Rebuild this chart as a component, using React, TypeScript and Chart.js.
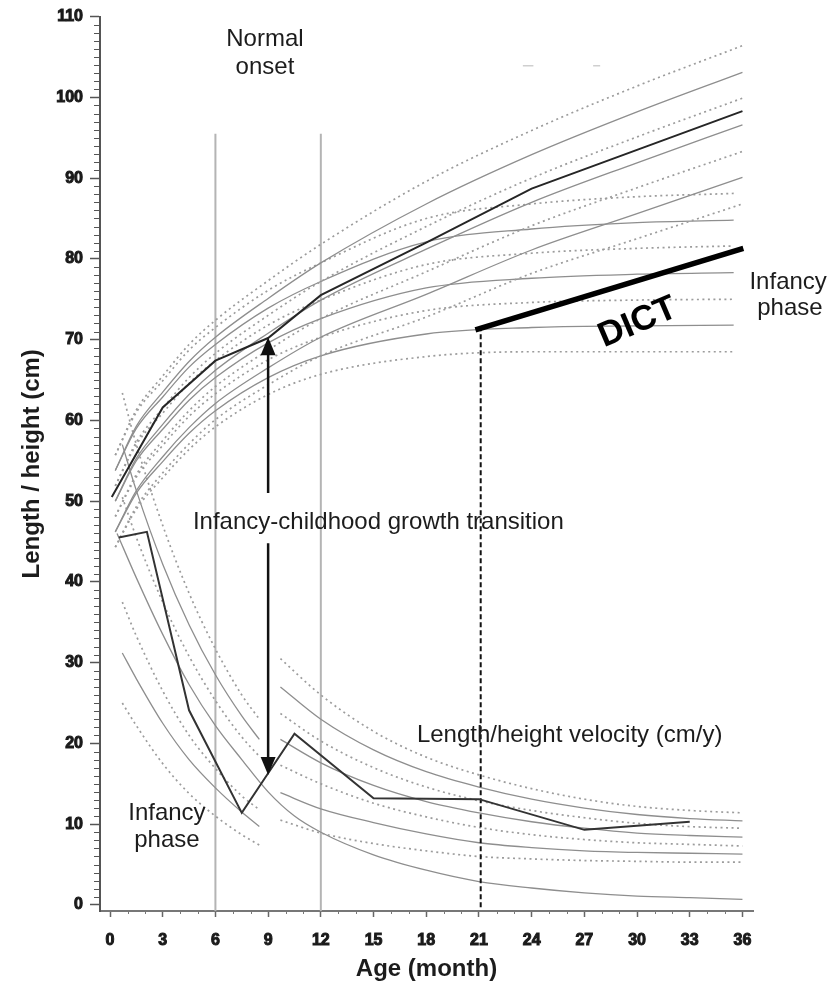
import React, { useEffect, useRef } from 'react';
import { Chart, registerables } from 'chart.js';

Chart.register(...registerables);

// ---------- tick labels ----------
const xTicks = [0, 3, 6, 9, 12, 15, 18, 21, 24, 27, 30, 33, 36];
const yTicks = [0, 10, 20, 30, 40, 50, 60, 70, 80, 90, 100, 110];

// ---------- length / height reference curves (cm) ----------
const childhoodMonths = [0.3, 1.5, 3, 4.5, 6, 9, 12, 18, 24, 30, 36];
const childhoodP3 = [55.7, 61.3, 65.5, 69.4, 72.4, 77.3, 81.8, 89.6, 95.9, 101.4, 106.4];
const childhoodP2 = [53.8, 59.3, 63.5, 67.3, 70.3, 75.1, 79.5, 86.8, 92.9, 98.2, 103.1];
const childhoodP1 = [51.9, 57.3, 61.5, 65.3, 68.3, 73.0, 77.2, 84.0, 90.0, 95.1, 99.9];
const childhoodMean = [50.0, 55.3, 59.5, 63.2, 66.2, 70.8, 74.9, 81.2, 87.0, 91.9, 96.6];
const childhoodM1 = [48.1, 53.3, 57.5, 61.2, 64.2, 68.7, 72.6, 78.4, 84.1, 88.8, 93.3];
const childhoodM2 = [46.2, 51.3, 55.5, 59.1, 62.1, 66.5, 70.3, 75.6, 81.1, 85.6, 90.1];
const childhoodM3 = [44.3, 49.3, 53.5, 57.1, 60.1, 64.4, 68.0, 72.8, 78.2, 82.5, 86.8];

const infancyMonths = [0.3, 1.5, 3, 4.5, 6, 9, 12, 18, 24, 30, 35.5];
const infancyP3 = [55.7, 61.0, 64.9, 68.7, 71.5, 76.1, 79.5, 85.0, 86.8, 87.7, 88.1];
const infancyP2 = [53.8, 59.0, 62.9, 66.6, 69.4, 73.9, 77.2, 82.1, 83.7, 84.5, 84.8];
const infancyP1 = [51.9, 57.0, 60.9, 64.6, 67.4, 71.8, 74.9, 79.3, 80.7, 81.3, 81.6];
const infancyMean = [50.0, 55.0, 58.9, 62.5, 65.3, 69.6, 72.6, 76.4, 77.6, 78.1, 78.3];
const infancyM1 = [48.1, 53.0, 56.9, 60.5, 63.3, 67.5, 70.3, 73.6, 74.6, 74.9, 75.0];
const infancyM2 = [46.2, 51.0, 54.9, 58.4, 61.2, 65.3, 68.0, 70.7, 71.5, 71.7, 71.8];
const infancyM3 = [44.3, 49.0, 52.9, 56.4, 59.2, 63.2, 65.7, 67.9, 68.5, 68.5, 68.5];

// ---------- velocity reference curves (cm/y) ----------
const infVelMonths = [0.7, 1.5, 3, 4.5, 6, 7.5, 8.5];
const infVelP3 = [63.4, 57.0, 47.0, 38.6, 31.7, 26.0, 23.0];
const infVelP2 = [57.0, 51.3, 42.2, 34.7, 28.5, 23.4, 20.5];
const infVelP1 = [50.5, 45.5, 37.5, 30.8, 25.3, 20.8, 18.4];
const infVelM1 = [37.5, 33.3, 26.5, 21.0, 16.9, 13.5, 11.8];
const infVelM2 = [31.2, 28.0, 22.5, 18.0, 14.5, 11.5, 9.7];
const infVelM3 = [25.0, 22.2, 17.5, 13.8, 11.0, 8.7, 7.4];
const infVelMeanMonths = [0.4, 1.5, 3, 4.5, 6, 7.5, 9, 10.5, 12, 15, 18, 21, 24, 27, 30, 33, 36];
const infVelMean = [46.0, 40.5, 33.5, 27.3, 22.2, 18.0, 14.0, 11.0, 9.0, 6.2, 4.3, 2.9, 2.1, 1.5, 1.1, 0.9, 0.7];

const childVelMonths = [9.7, 12, 15, 18, 21, 24, 27, 30, 33, 36];
const childVelP3 = [30.5, 26.0, 21.5, 18.3, 16.1, 14.4, 13.1, 12.2, 11.7, 11.4];
const childVelP2 = [27.0, 23.0, 19.2, 16.5, 14.6, 13.1, 12.0, 11.2, 10.7, 10.4];
const childVelP1 = [23.7, 20.3, 17.0, 14.6, 12.9, 11.7, 10.8, 10.1, 9.7, 9.5];
const childVelMean = [20.5, 17.6, 14.8, 12.8, 11.4, 10.3, 9.5, 8.9, 8.6, 8.4];
const childVelM1 = [17.3, 15.0, 12.6, 10.9, 9.6, 8.7, 8.1, 7.7, 7.5, 7.3];
const childVelM2 = [13.9, 11.9, 10.2, 8.8, 7.7, 7.1, 6.7, 6.5, 6.4, 6.3];
const childVelM3 = [10.5, 8.9, 7.6, 6.7, 6.0, 5.7, 5.5, 5.4, 5.3, 5.3];

// ---------- the child's measurements ----------
const childLengthMonths = [0.1, 3, 6, 9, 12, 18, 24, 36];
const childLength = [50.5, 61.6, 67.4, 70.2, 75.5, 82.0, 88.7, 98.3];
const childVelocityMonths = [0.5, 2.1, 4.5, 7.5, 9, 10.5, 15, 21, 27, 33];
const childVelocity = [45.5, 46.2, 24.1, 11.4, 16.3, 21.2, 13.2, 13.1, 9.3, 10.3];

// ---------- DICT and markers ----------
const dictMonths = [20.8, 36.05];
const dictValues = [71.2, 81.3];
const dictMarkMonth = 21.1;
const dictMarkRange = [-0.3, 71.2];
const normalOnsetLines = [6, 12];
const normalOnsetRange = [-0.75, 95.5];
const transitionMonth = 9;
const upperArrowRange = [51.0, 70.3];
const lowerArrowRange = [44.8, 16.1];

const pts = (xs: number[], ys: number[]) => xs.map((x, i) => ({ x, y: ys[i] }));

const refCurve = (xs: number[], ys: number[], dotted: boolean) => ({
  data: pts(xs, ys),
  borderColor: dotted ? '#9c9c9c' : '#8e8e8e',
  borderWidth: dotted ? 1.7 : 1.3,
  borderDash: dotted ? [2, 3.5] : [],
  cubicInterpolationMode: 'monotone' as const,
  pointRadius: 0,
  fill: false,
});

const FONT = '"Liberation Sans", Arial, Helvetica, sans-serif';

const annotations = [
  { text: 'Normal', x: 8.82, y: 106.4, size: 24, align: 'center' },
  { text: 'onset', x: 8.82, y: 102.9, size: 24, align: 'center' },
  { text: 'Infancy-childhood growth transition', x: 4.72, y: 46.6, size: 24, align: 'left' },
  { text: 'Length/height velocity (cm/y)', x: 17.47, y: 20.2, size: 24, align: 'left' },
  { text: 'Infancy', x: 3.24, y: 10.5, size: 24, align: 'center' },
  { text: 'phase', x: 3.24, y: 7.2, size: 24, align: 'center' },
  { text: 'Infancy', x: 38.6, y: 76.3, size: 24, align: 'center' },
  { text: 'phase', x: 38.7, y: 73.0, size: 24, align: 'center' },
];

const overlayPlugin = {
  id: 'overlay',
  afterDraw(chart: any) {
    const { ctx, chartArea: area } = chart;
    const xs = chart.scales.x;
    const ys = chart.scales.y;
    ctx.save();
    // minor ticks
    ctx.strokeStyle = '#555';
    ctx.lineWidth = 1;
    ctx.beginPath();
    for (let v = 1; v < 110; v++) {
      if (v % 10 === 0) continue;
      const py = Math.round(ys.getPixelForValue(v)) + 0.5;
      ctx.moveTo(area.left - 6, py);
      ctx.lineTo(area.left, py);
    }
    ctx.stroke();
    ctx.strokeStyle = '#777';
    ctx.beginPath();
    for (let m = 1; m <= 36; m++) {
      if (m % 3 === 0) continue;
      const px = Math.round(xs.getPixelForValue(m)) + 0.5;
      ctx.moveTo(px, area.bottom);
      ctx.lineTo(px, area.bottom + 3);
    }
    ctx.stroke();

    // arrowheads
    ctx.fillStyle = '#111';
    const heads = [
      { tip: upperArrowRange[1], dir: -1 },
      { tip: lowerArrowRange[1], dir: 1 },
    ];
    for (const h of heads) {
      const px = xs.getPixelForValue(transitionMonth);
      const py = ys.getPixelForValue(h.tip);
      ctx.beginPath();
      ctx.moveTo(px, py);
      ctx.lineTo(px - 7.5, py - h.dir * 18);
      ctx.lineTo(px + 7.5, py - h.dir * 18);
      ctx.closePath();
      ctx.fill();
    }

    // texts
    ctx.fillStyle = '#1c1c1c';
    ctx.textBaseline = 'alphabetic';
    for (const a of annotations) {
      ctx.font = `${a.size}px ${FONT}`;
      ctx.textAlign = a.align as CanvasTextAlign;
      ctx.fillText(a.text, xs.getPixelForValue(a.x), ys.getPixelForValue(a.y));
    }
    // DICT label
    ctx.save();
    ctx.translate(xs.getPixelForValue(30.05), ys.getPixelForValue(72.1));
    ctx.rotate((-23 * Math.PI) / 180);
    ctx.font = `bold 35px ${FONT}`;
    ctx.textAlign = 'center';
    ctx.textBaseline = 'middle';
    ctx.fillStyle = '#000';
    ctx.fillText('DICT', 0, 0);
    ctx.restore();
    ctx.restore();
  },
};

export default function App() {
  const canvasRef = useRef<HTMLCanvasElement | null>(null);

  useEffect(() => {
    document.body.style.margin = '0';
    const canvas = canvasRef.current;
    if (!canvas) return;

    const line = (data: any[], color: string, width: number, dash: number[] = []) => ({
      data,
      borderColor: color,
      borderWidth: width,
      borderDash: dash,
      pointRadius: 0,
      tension: 0,
      fill: false,
    });

    const datasets: any[] = [
      line(pts(childLengthMonths, childLength), '#262626', 2),
      line(pts(childVelocityMonths, childVelocity), '#333', 2),
      line(pts(dictMonths, dictValues), '#000', 5.5),
      line(
        [
          { x: dictMarkMonth, y: dictMarkRange[0] },
          { x: dictMarkMonth, y: dictMarkRange[1] },
        ],
        '#111',
        2,
        [5, 3],
      ),
      line(
        [
          { x: transitionMonth, y: upperArrowRange[0] },
          { x: transitionMonth, y: upperArrowRange[1] - 1.5 },
        ],
        '#111',
        2.5,
      ),
      line(
        [
          { x: transitionMonth, y: lowerArrowRange[0] },
          { x: transitionMonth, y: lowerArrowRange[1] + 1.5 },
        ],
        '#111',
        2.5,
      ),
      refCurve(childhoodMonths, childhoodP3, true),
      refCurve(childhoodMonths, childhoodP2, false),
      refCurve(childhoodMonths, childhoodP1, true),
      refCurve(childhoodMonths, childhoodMean, false),
      refCurve(childhoodMonths, childhoodM1, true),
      refCurve(childhoodMonths, childhoodM2, false),
      refCurve(childhoodMonths, childhoodM3, true),
      refCurve(infancyMonths, infancyP3, true),
      refCurve(infancyMonths, infancyP2, false),
      refCurve(infancyMonths, infancyP1, true),
      refCurve(infancyMonths, infancyMean, false),
      refCurve(infancyMonths, infancyM1, true),
      refCurve(infancyMonths, infancyM2, false),
      refCurve(infancyMonths, infancyM3, true),
      refCurve(infVelMonths, infVelP3, true),
      refCurve(infVelMonths, infVelP2, false),
      refCurve(infVelMonths, infVelP1, true),
      refCurve(infVelMeanMonths, infVelMean, false),
      refCurve(infVelMonths, infVelM1, true),
      refCurve(infVelMonths, infVelM2, false),
      refCurve(infVelMonths, infVelM3, true),
      refCurve(childVelMonths, childVelP3, true),
      refCurve(childVelMonths, childVelP2, false),
      refCurve(childVelMonths, childVelP1, true),
      refCurve(childVelMonths, childVelMean, false),
      refCurve(childVelMonths, childVelM1, true),
      refCurve(childVelMonths, childVelM2, false),
      refCurve(childVelMonths, childVelM3, true),
      ...normalOnsetLines.map((m) =>
        line(
          [
            { x: m, y: normalOnsetRange[0] },
            { x: m, y: normalOnsetRange[1] },
          ],
          '#b4b4b4',
          2,
        ),
      ),
      line([{ x: 23.5, y: 103.9 }, { x: 24.1, y: 103.9 }], '#cfcfcf', 1.5),
      line([{ x: 27.5, y: 103.9 }, { x: 27.9, y: 103.9 }], '#cfcfcf', 1.5),
    ];

    Chart.defaults.font.family = FONT;

    const chart = new Chart(canvas, {
      type: 'line',
      data: { datasets },
      options: {
        animation: false,
        responsive: false,
        maintainAspectRatio: false,
        devicePixelRatio: 1,
        events: [],
        layout: { padding: { left: 0, right: 78, top: 16, bottom: 0 } },
        plugins: { legend: { display: false }, tooltip: { enabled: false } },
        scales: {
          x: {
            type: 'linear',
            min: -0.57,
            max: 36.6,
            afterBuildTicks: (s: any) => {
              s.ticks = xTicks.map((v) => ({ value: v }));
            },
            afterFit: (s: any) => {
              s.height = 75;
            },
            grid: { drawOnChartArea: false, drawTicks: true, tickLength: 6, color: '#666', tickWidth: 1.5 },
            border: { display: true, color: '#777', width: 2 },
            ticks: {
              font: { size: 16, weight: 'bold' },
              color: '#1a1a1a',
              textStrokeColor: '#1a1a1a',
              textStrokeWidth: 1,
              padding: 14,
              maxRotation: 0,
              autoSkip: false,
            },
            title: {
              display: true,
              text: 'Age (month)',
              font: { size: 24, weight: 'bold' },
              color: '#1c1c1c',
              padding: { top: 0, bottom: 2 },
            },
          },
          y: {
            type: 'linear',
            min: -0.75,
            max: 110,
            afterBuildTicks: (s: any) => {
              s.ticks = yTicks.map((v) => ({ value: v }));
            },
            afterFit: (s: any) => {
              s.width = 100;
            },
            grid: { drawOnChartArea: false, drawTicks: true, tickLength: 10, color: '#555', tickWidth: 1.5 },
            border: { display: true, color: '#555', width: 2 },
            ticks: {
              font: { size: 16, weight: 'bold' },
              color: '#1a1a1a',
              textStrokeColor: '#1a1a1a',
              textStrokeWidth: 1,
              padding: 7,
            },
            title: {
              display: true,
              text: 'Length / height (cm)',
              font: { size: 24, weight: 'bold' },
              color: '#1c1c1c',
              padding: { top: 18, bottom: 0 },
            },
          },
        },
      } as any,
      plugins: [overlayPlugin],
    });

    return () => chart.destroy();
  }, []);

  return (
    <div style={{ width: 831, height: 986 }}>
      <canvas ref={canvasRef} width={831} height={986} style={{ display: 'block' }} />
    </div>
  );
}
